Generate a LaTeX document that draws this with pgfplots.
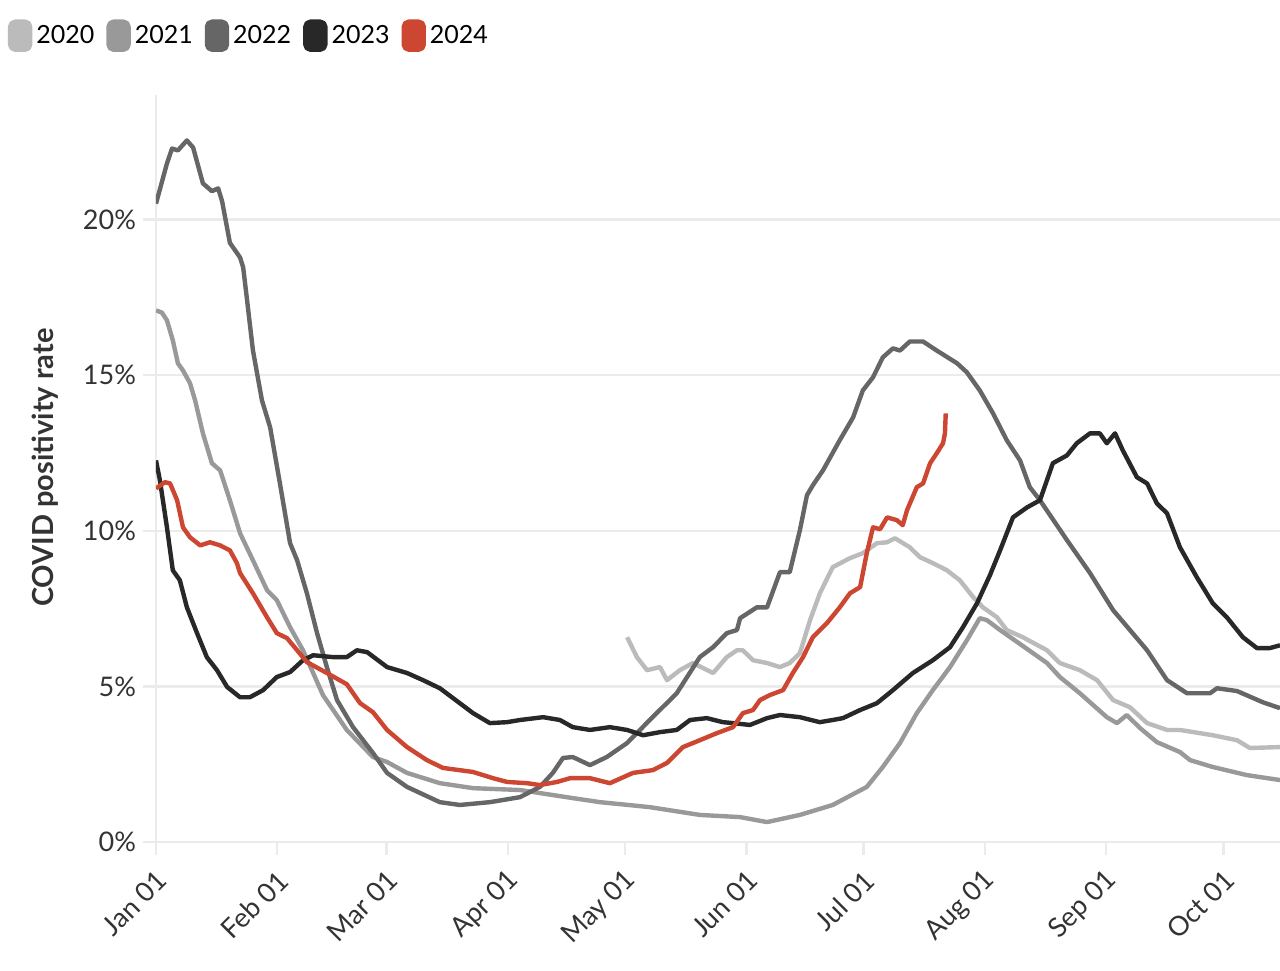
\documentclass[border=0pt]{standalone}
\usepackage{pgfplots}
\pgfplotsset{compat=1.18}
\usepackage{fontspec}
\setmainfont{Lato}
\definecolor{c2020}{HTML}{BBBBBB}
\definecolor{c2021}{HTML}{999999}
\definecolor{c2022}{HTML}{666666}
\definecolor{c2023}{HTML}{282828}
\definecolor{c2024}{HTML}{CC4631}
\definecolor{gridc}{HTML}{EBEBEB}
\definecolor{txt}{HTML}{333333}
\begin{document}
\begin{tikzpicture}
\useasboundingbox (0,0) rectangle (640pt,485pt);
\begin{axis}[
  at={(78pt,64pt)}, anchor=south west, scale only axis,
  width=562pt, height=373.5pt,
  xmin=0, xmax=287.5, ymin=0, ymax=24,
  axis lines*=left,
  axis line style={gridc, line width=1.2pt},
  ymajorgrids, grid style={gridc, line width=1.2pt},
  tick align=outside, major tick length=6.5pt,
  tick style={gridc, line width=1.2pt},
  ytick={0,5,10,15,20},
  yticklabels={0\%,5\%,10\%,15\%,20\%},
  xtick={0,31,59,90,120,151,181,212,243,273},
  xticklabels={Jan 01,Feb 01,Mar 01,Apr 01,May 01,Jun 01,Jul 01,Aug 01,Sep 01,Oct 01},
  yticklabel style={font=\fontsize{13.5}{15}\selectfont, text=txt},
  xticklabel style={font=\fontsize{13.5}{15}\selectfont, text=txt, shift={(5.5pt,-8pt)}, anchor=east, rotate=45},
  every axis y label/.style={at={(axis description cs:-0.0988,0.501)}, rotate=90, anchor=center, font=\fontsize{14.5}{16}\selectfont\bfseries, text=txt},
  ylabel={COVID positivity rate},
  legend columns=-1,
  legend style={at={(axis description cs:-0.1374,1.107)}, anchor=north west, draw=none, fill=none,
    font=\fontsize{12.5}{15}\selectfont, text=black,
    /tikz/every even column/.append style={column sep=4pt}},
  legend image code/.code={\fill[rounded corners=2.5pt] (0pt,-7pt) rectangle (10pt,7pt);},
  every axis plot/.append style={line width=2.2pt, line join=round},
]
\addplot[color=c2020] coordinates {
(120.5,6.58)(123.0,5.94)(125.6,5.52)(128.9,5.62)(130.7,5.20)(134.0,5.52)(137.3,5.75)(142.5,5.43)
(146.0,5.94)(148.6,6.16)(150.1,6.16)(152.7,5.84)(156.3,5.75)(159.6,5.62)(162.1,5.75)(164.7,6.07)
(167.3,7.13)(169.8,7.99)(173.1,8.83)(177.5,9.12)(180.8,9.28)(184.4,9.60)(187.0,9.63)(189.0,9.76)
(192.8,9.47)(195.4,9.15)(198.7,8.96)(202.3,8.73)(205.6,8.41)(209.0,7.87)(211.5,7.54)(215.1,7.22)
(217.6,6.81)(221.7,6.58)(227.9,6.16)(231.2,5.75)(236.3,5.52)(240.7,5.20)(244.8,4.56)(249.1,4.33)
(253.5,3.82)(258.6,3.60)(261.9,3.60)(270.3,3.43)(276.5,3.27)(279.8,3.02)(287.5,3.05)
};
\addlegendentry{2020}
\addplot[color=c2021] coordinates {
(0,17.08)(1.5,17.01)(2.8,16.76)(4.3,16.12)(5.6,15.38)(6.9,15.15)(8.7,14.74)(10.0,14.19)
(12.0,13.13)(14.3,12.17)(16.4,11.94)(18.9,10.98)(21.5,9.92)(24.8,9.05)(28.4,8.09)(30.9,7.77)
(34.3,6.90)(37.6,6.16)(40.2,5.43)(42.7,4.72)(48.8,3.60)(55.5,2.73)(59.1,2.57)(64.2,2.22)
(72.6,1.89)(81.1,1.73)(93.1,1.67)(106.6,1.41)(113.6,1.28)(126.3,1.12)(139.1,0.87)(149.4,0.80)
(156.3,0.64)(164.7,0.87)(173.1,1.19)(181.8,1.77)(185.9,2.41)(190.3,3.18)(194.6,4.14)(198.7,4.88)
(203.1,5.62)(207.4,6.48)(210.7,7.19)(212.5,7.13)(215.9,6.81)(224.3,6.07)(227.9,5.75)(231.2,5.30)
(236.3,4.78)(243.2,4.01)(245.8,3.82)(248.3,4.08)(251.7,3.66)(256.0,3.21)(261.9,2.89)(264.5,2.63)
(270.3,2.41)(279.0,2.15)(287.5,1.99)
};
\addlegendentry{2021}
\addplot[color=c2022] coordinates {
(0,20.51)(2.8,21.80)(4.1,22.28)(5.6,22.22)(7.9,22.54)(9.5,22.31)(12.0,21.16)(14.3,20.91)
(15.9,21.00)(16.9,20.59)(18.9,19.25)(21.5,18.78)(22.3,18.46)(23.3,17.40)(24.8,15.79)(27.1,14.19)
(29.2,13.32)(31.7,11.52)(34.3,9.60)(36.1,9.05)(38.6,7.99)(41.2,6.71)(43.7,5.62)(46.3,4.56)
(50.4,3.69)(55.5,2.86)(59.1,2.22)(64.2,1.77)(72.6,1.28)(77.7,1.19)(85.4,1.28)(93.1,1.44)
(98.2,1.77)(101.5,2.22)(104.1,2.70)(106.6,2.73)(111.0,2.47)(115.3,2.73)(120.5,3.18)(126.3,3.92)
(133.2,4.78)(139.1,5.94)(142.5,6.26)(146.0,6.71)(148.6,6.81)(149.4,7.19)(153.7,7.54)(156.3,7.54)
(159.6,8.67)(162.1,8.67)(164.7,10.02)(166.5,11.14)(168.0,11.46)(170.6,11.94)(174.9,12.91)(178.3,13.64)
(180.8,14.51)(183.4,14.93)(185.9,15.57)(188.5,15.86)(190.3,15.79)(192.8,16.08)(196.2,16.08)(199.7,15.79)
(204.9,15.38)(207.4,15.09)(210.7,14.51)(214.1,13.77)(217.6,12.91)(221.0,12.26)(223.5,11.40)(226.1,10.98)
(233.0,9.70)(238.9,8.64)(244.8,7.45)(253.5,6.16)(258.6,5.20)(263.7,4.78)(269.6,4.78)(271.4,4.94)
(276.5,4.85)(283.1,4.49)(287.5,4.30)
};
\addlegendentry{2022}
\addplot[color=c2023] coordinates {
(0,12.26)(1.0,11.62)(2.8,10.11)(4.3,8.73)(6.1,8.41)(7.9,7.54)(10.5,6.71)(13.0,5.94)
(15.6,5.52)(18.2,4.98)(21.5,4.65)(24.0,4.65)(27.4,4.88)(30.9,5.30)(34.3,5.46)(37.6,5.84)
(40.2,6.00)(45.3,5.94)(48.8,5.94)(51.4,6.16)(54.0,6.10)(59.1,5.62)(64.2,5.43)(68.3,5.20)
(72.6,4.94)(77.7,4.46)(81.1,4.14)(85.4,3.82)(89.8,3.85)(93.1,3.92)(99.0,4.01)(103.3,3.92)
(106.6,3.69)(111.0,3.60)(116.1,3.69)(120.5,3.60)(124.6,3.43)(128.9,3.53)(133.2,3.60)(136.6,3.92)
(140.9,3.98)(145.0,3.85)(147.6,3.82)(151.9,3.76)(156.3,3.98)(159.6,4.08)(164.7,4.01)(169.8,3.85)
(173.1,3.92)(175.7,3.98)(180.1,4.24)(184.4,4.46)(188.5,4.88)(193.6,5.43)(198.7,5.84)(203.1,6.26)
(206.4,6.90)(210.0,7.67)(213.3,8.57)(215.9,9.37)(219.2,10.43)(222.8,10.75)(226.1,10.98)(229.4,12.17)
(233.0,12.42)(235.5,12.81)(238.9,13.13)(241.4,13.13)(243.2,12.81)(245.3,13.13)(247.3,12.58)(250.9,11.72)
(253.5,11.52)(256.0,10.88)(258.6,10.56)(261.9,9.47)(266.2,8.51)(270.3,7.67)(273.9,7.22)(278.0,6.58)
(281.6,6.23)(284.9,6.23)(287.5,6.32)
};
\addlegendentry{2023}
\addplot[color=c2024] coordinates {
(0,11.36)(2.3,11.56)(3.6,11.52)(5.4,10.98)(6.9,10.11)(8.7,9.79)(11.3,9.53)(13.8,9.63)
(16.4,9.53)(18.9,9.37)(20.7,8.96)(21.5,8.64)(24.8,7.99)(28.4,7.22)(30.9,6.71)(33.5,6.55)
(36.1,6.16)(38.6,5.78)(43.7,5.43)(48.8,5.07)(52.2,4.46)(55.5,4.17)(59.1,3.60)(64.2,3.05)
(69.3,2.63)(73.4,2.38)(81.1,2.25)(86.2,2.05)(89.8,1.93)(94.9,1.89)(98.2,1.83)(102.6,1.93)
(105.9,2.05)(111.0,2.05)(116.1,1.89)(122.0,2.22)(127.1,2.31)(130.7,2.54)(134.8,3.05)(139.1,3.27)
(143.5,3.50)(147.6,3.69)(150.1,4.14)(152.7,4.24)(154.5,4.56)(157.0,4.72)(160.4,4.88)(162.9,5.43)
(165.5,5.94)(168.0,6.58)(171.6,7.03)(174.9,7.54)(177.5,7.99)(180.1,8.19)(181.8,9.28)(183.4,10.11)
(185.2,10.05)(187.0,10.43)(189.5,10.34)(191.0,10.18)(192.1,10.66)(194.6,11.40)(196.2,11.52)(198.0,12.17)
(199.7,12.49)(201.3,12.81)(201.8,13.13)(202.0,13.77)
};
\addlegendentry{2024}
\end{axis}
\end{tikzpicture}
\end{document}
